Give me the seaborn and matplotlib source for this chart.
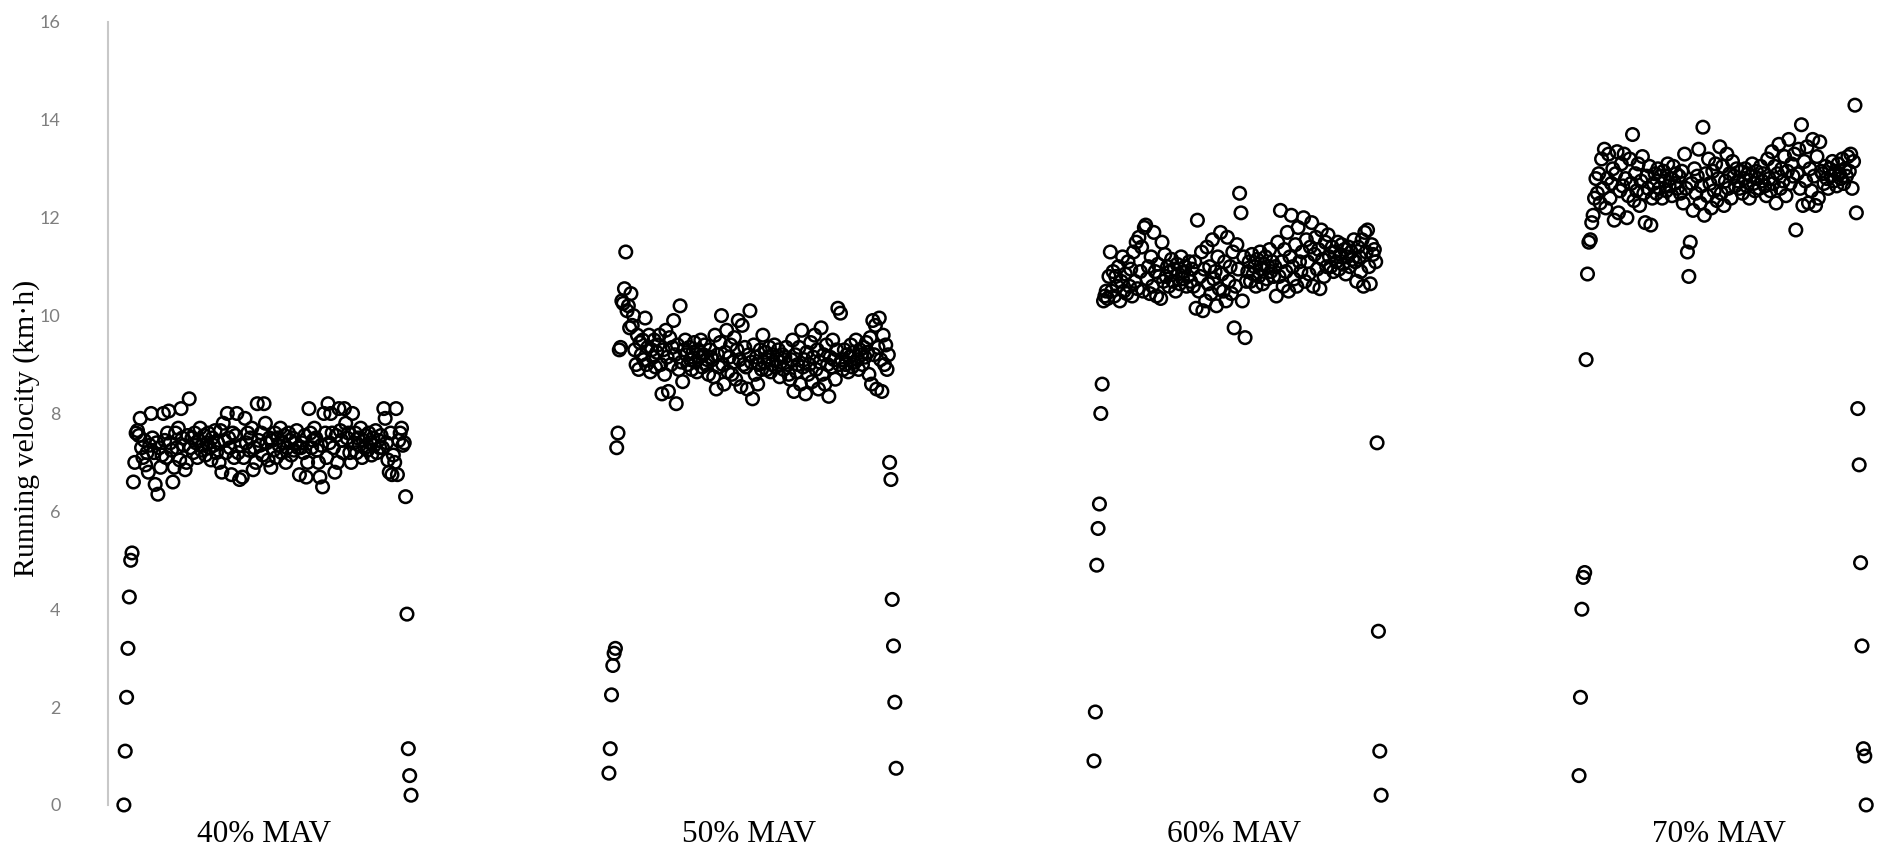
import numpy as np
import pandas as pd
import matplotlib
matplotlib.use("Agg")
import matplotlib.pyplot as plt
import seaborn as sns

# Running velocity (km/h) recorded over each trial, in sample order
groups = ["40% MAV", "50% MAV", "60% MAV", "70% MAV"]

v40 = [
    0.0, 1.1, 2.2, 3.2, 4.25, 5.0, 5.15, 6.6, 7.0,
    7.6, 7.65, 7.55, 7.9, 7.3, 7.1, 7.45, 6.95, 7.2, 6.8, 7.35, 8.0, 7.5, 7.2, 6.55, 7.4, 6.35, 7.3, 6.9, 7.15,
    8.0, 7.45, 7.1, 7.6, 8.05, 7.4, 7.25, 6.6, 6.9, 7.6, 7.3, 7.7, 7.05, 8.1, 7.5, 7.35, 6.85, 7.0, 7.55, 8.3,
    7.3, 7.5, 7.2, 7.6, 7.4, 7.1, 7.45, 7.7, 7.25, 7.35, 7.55, 7.15, 7.4, 7.6, 7.3, 7.05, 7.5, 7.35, 7.65, 7.2,
    7.4, 7.0, 7.65, 6.8, 7.8, 7.45, 7.2, 8.0, 7.5, 7.3, 6.75, 7.6, 7.1, 7.55, 8.0, 7.2, 6.65, 7.35, 6.7, 7.1,
    7.9, 7.4, 7.6, 7.25, 7.5, 7.7, 6.85, 7.3, 7.0, 8.2, 7.45, 7.35, 7.6, 7.15, 8.2, 7.8, 7.4, 7.05, 7.5, 6.9,
    7.45, 7.25, 7.6, 7.1, 7.5, 7.35, 7.7, 7.2, 7.4, 7.55, 7.0, 7.3, 7.6, 7.45, 7.15, 7.5, 7.25, 7.4, 7.65, 7.3,
    6.75, 7.3, 7.4, 7.2, 7.55, 6.7, 7.0, 8.1, 7.6, 7.3, 7.45, 7.7, 7.5, 7.25, 7.0, 6.7, 7.35, 6.5, 8.0, 7.6,
    7.1, 8.2, 7.4, 8.0, 7.6, 7.3, 6.8, 7.55, 7.0, 8.1, 7.65, 7.45, 7.2, 8.1, 7.8, 7.5, 7.6, 7.2, 7.0, 8.0,
    7.4, 7.6, 7.2, 7.5, 7.35, 7.7, 7.1, 7.45, 7.3, 7.55, 7.25, 7.6, 7.4, 7.15, 7.5, 7.35, 7.65, 7.2, 7.45, 7.3,
    7.55, 7.3, 8.1, 7.9, 7.4, 7.05, 6.8, 7.6, 6.75, 7.15, 7.0, 8.1, 6.75, 7.45, 7.6, 7.7, 7.35, 7.4,
    6.3, 3.9, 1.15, 0.6, 0.2,
]

v50 = [
    0.65, 1.15, 2.25, 2.85, 3.1, 3.2, 7.3, 7.6, 9.3, 9.35, 10.3, 10.25, 10.55, 11.3, 10.1, 10.2, 9.75, 10.45, 9.8, 10.0,
    9.3, 9.0, 9.6, 8.9, 9.45, 9.2, 9.5, 9.1, 9.95, 9.0, 9.35, 9.6, 8.85, 9.3, 9.15, 9.5, 8.95, 9.25, 9.4, 9.6,
    9.0, 8.4, 9.3, 8.8, 9.7, 9.15, 8.45, 9.55, 9.0, 9.35, 9.9, 9.2, 8.2, 9.4, 8.9, 10.2, 9.05, 8.65, 9.3, 9.5,
    9.2, 9.0, 9.35, 9.1, 8.9, 9.25, 9.45, 9.05, 8.85, 9.3, 9.15, 9.5, 8.95, 9.2, 9.4, 9.0, 9.1, 8.8, 9.3, 9.15,
    9.1, 8.75, 9.6, 8.5, 9.2, 8.95, 9.45, 10.0, 9.0, 8.6, 9.25, 9.7, 8.85, 9.15, 9.4, 8.8, 9.05, 9.55, 8.7, 9.3,
    9.9, 9.1, 8.55, 9.8, 9.0, 9.35, 8.95, 8.5, 9.2, 10.1, 9.05, 8.3, 9.4, 8.8, 9.15, 8.6, 9.0, 9.3, 8.9, 9.6,
    9.05, 9.25, 8.9, 9.15, 9.35, 8.85, 9.0, 9.2, 9.4, 8.95, 9.1, 9.3, 8.75, 9.05, 9.2, 8.9, 9.15, 9.35, 9.0, 8.8,
    8.7, 9.1, 9.5, 8.45, 9.2, 8.85, 9.0, 9.35, 8.6, 9.7, 8.95, 9.1, 8.4, 9.25, 8.8, 9.0, 9.45, 8.65, 9.15, 9.6,
    8.9, 9.3, 8.5, 9.05, 9.75, 8.8, 9.2, 8.6, 9.4, 9.0, 8.35, 9.15, 8.95, 9.5, 9.1, 8.7, 9.3, 10.15, 9.0, 10.05,
    9.1, 8.9, 9.3, 9.0, 9.2, 8.85, 9.15, 9.4, 8.95, 9.25, 9.05, 9.5, 9.1, 8.9, 9.3, 9.2, 9.0, 9.35, 9.15, 9.45,
    9.25, 8.8, 9.55, 8.6, 9.9, 9.2, 9.8, 8.5, 9.35, 9.95, 9.1, 8.45, 9.6, 9.0, 9.4, 8.9, 9.2,
    7.0, 6.65, 4.2, 3.25, 2.1, 0.75,
]

v60 = [
    0.9, 1.9, 4.9, 5.65, 6.15, 8.0, 8.6, 10.3, 10.4, 10.5, 10.35, 10.8, 11.3,
    10.5, 10.9, 10.4, 10.8, 10.6, 11.0, 10.3, 10.7, 11.2, 10.5, 10.85, 10.45, 11.1, 10.6, 10.95, 10.4, 11.3, 10.7, 11.5, 10.55,
    11.6, 10.9, 11.4, 10.5, 11.8, 11.85, 10.75, 11.0, 10.45, 11.2, 10.6, 11.7, 10.9, 10.4, 11.05, 10.8, 10.35, 11.5, 10.7, 11.25,
    10.8, 11.0, 10.6, 10.9, 11.15, 10.7, 10.95, 10.5, 11.05, 10.85, 10.65, 11.2, 10.75, 10.9, 11.0, 10.6, 10.8, 11.1, 10.7, 10.95,
    10.6, 11.1, 10.15, 11.95, 10.5, 10.8, 11.3, 10.1, 10.95, 10.3, 11.4, 10.65, 11.0, 10.45, 11.55, 10.75, 10.9, 10.2, 11.2, 10.55,
    11.7, 10.85, 10.5, 11.1, 10.3, 11.6, 10.7, 11.0, 10.45, 11.3, 9.75, 10.6, 11.45, 10.95, 12.5, 12.1, 10.3, 11.2, 9.55, 10.7,
    10.9, 11.1, 10.7, 11.25, 10.85, 11.0, 10.6, 11.15, 10.8, 11.3, 10.95, 10.65, 11.05, 11.2, 10.75, 11.0, 11.35, 10.9, 11.1, 10.8,
    11.0, 10.4, 11.5, 10.8, 12.15, 11.1, 10.6, 11.35, 10.9, 11.7, 10.5, 11.2, 12.05, 11.0, 10.75, 11.45, 10.6, 11.8, 11.1, 10.9,
    11.3, 12.0, 10.7, 11.55, 11.1, 10.85, 11.4, 11.9, 10.6, 11.25, 11.6, 10.95, 11.35, 10.55, 11.75, 11.15, 10.8, 11.5, 11.0, 11.65,
    11.2, 11.0, 11.4, 10.9, 11.3, 11.1, 11.5, 10.95, 11.25, 11.45, 11.05, 11.35, 10.85, 11.2, 11.4, 11.0, 11.3, 11.15, 11.55, 11.1,
    10.7, 11.4, 11.2, 10.9, 11.55, 10.6, 11.7, 11.3, 11.75, 11.0, 10.65, 11.45, 11.25, 11.35, 11.1,
    7.4, 3.55, 1.1, 0.2,
]

v70 = [
    0.6, 2.2, 4.0, 4.65, 4.75, 9.1, 10.85, 11.5, 11.55, 11.9, 12.05, 12.4, 12.8,
    12.5, 12.9, 12.3, 13.2, 12.6, 13.4, 12.2, 12.8, 13.3, 12.4, 12.7, 13.0, 11.95, 12.9, 13.35, 12.1, 12.55, 13.1, 12.65, 13.3,
    12.8, 12.0, 12.45, 13.2, 12.7, 13.7, 12.35, 12.9, 12.55, 13.1, 12.25, 12.75, 13.25, 12.5, 11.9, 12.85, 12.6, 13.05, 11.85, 12.4,
    12.7, 12.9, 12.5, 13.0, 12.6, 12.85, 12.4, 12.95, 12.75, 12.55, 13.1, 12.65, 12.8, 12.45, 13.05, 12.7, 12.9, 12.6, 12.85, 12.5,
    12.95, 12.3, 13.3, 12.6, 11.3, 10.8, 11.5, 12.7, 12.15, 13.0, 12.5, 12.85, 13.4, 12.3, 12.65, 13.85, 12.05, 12.9, 12.45, 13.2,
    12.7, 12.2, 12.95, 12.55, 13.1, 12.35, 12.8, 13.45, 12.5, 13.05, 12.25, 12.75, 13.3, 12.6, 12.9, 12.4, 13.15, 12.85, 12.65, 13.0,
    12.75, 12.6, 12.95, 12.5, 12.8, 13.0, 12.65, 12.9, 12.4, 12.85, 13.1, 12.7, 12.55, 12.95, 12.8, 12.6, 13.05, 12.75, 12.9, 12.65,
    12.45, 13.2, 12.8, 12.55, 13.35, 12.7, 13.05, 12.3, 12.9, 13.5, 12.6, 13.0, 12.75, 13.25, 12.45, 12.95, 13.6, 12.7, 13.1, 12.85,
    13.3, 11.75, 12.9, 13.4, 12.6, 13.9, 12.25, 13.15, 12.75, 13.45, 12.3, 13.0, 12.55, 13.6, 12.85, 12.25, 13.25, 12.4, 13.55, 12.95,
    12.9, 12.7, 13.05, 12.8, 12.6, 13.0, 12.85, 13.15, 12.75, 12.95, 12.65, 13.1, 12.9, 12.8, 13.2, 12.7, 13.0, 12.85, 13.25, 12.95,
    13.3, 12.6, 13.15, 14.3, 12.1,
    8.1, 6.95, 4.95, 3.25, 1.15, 1.0, 0.0,
]

series = [v40, v50, v60, v70]
y_ticks = list(range(0, 17, 2))

# Each trial occupies the same time window; trials are laid out side by side
trial_period = 250
trial_span = 148

frames = []
for k, (name, vals) in enumerate(zip(groups, series)):
    n = len(vals)
    t = k * trial_period + np.arange(n) * trial_span / (n - 1)
    frames.append(pd.DataFrame({"trial": name, "t": t, "velocity": vals}))
df = pd.concat(frames, ignore_index=True)
centers = [k * trial_period + trial_span / 2 - 2 for k in range(len(groups))]

sns.set_theme(style="white")
plt.rcParams["font.family"] = ["Liberation Serif", "DejaVu Serif"]

fig = plt.figure(figsize=(18.81, 8.52), dpi=100)
ax = fig.add_axes([0.0574, 0.0552, 0.9368, 0.919])

sns.scatterplot(
    data=df, x="t", y="velocity", ax=ax,
    marker="o", s=82, facecolor="none", edgecolor="black",
    linewidth=1.8, clip_on=False, legend=False,
)

ax.set_xlim(-8.2, 900)
ax.set_ylim(0, 16)
ax.set_yticks(y_ticks)
ax.set_yticklabels([str(v) for v in y_ticks], fontfamily="Lato",
                   fontsize=13, color="#7f7f7f")
ax.tick_params(axis="y", length=0, pad=34)
ax.set_xticks(centers)
ax.set_xticklabels(groups, fontsize=22.5, color="black")
ax.tick_params(axis="x", length=0, pad=11)
ax.set_xlabel("")
ax.set_ylabel("")

for side in ["top", "right", "bottom"]:
    ax.spines[side].set_visible(False)
ax.spines["left"].set_color("#c8c8c8")
ax.spines["left"].set_linewidth(1.5)

fig.text(27 / 1881, 1 - 428 / 852, "Running velocity (km\u00b7h)",
         rotation=90, ha="center", va="center", fontsize=21.5, color="black")

fig.savefig("out.png", dpi=100, facecolor="white")
